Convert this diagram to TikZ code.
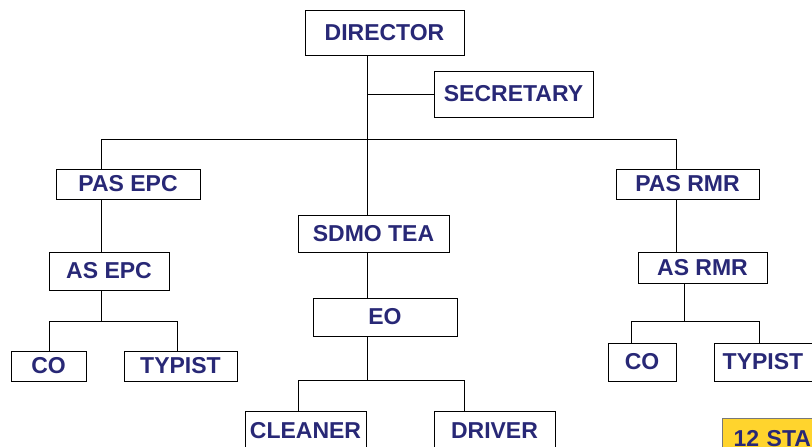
\documentclass[tikz,border=0pt]{standalone}
\usepackage{fontspec}
\setmainfont{Liberation Sans}
\definecolor{navy}{RGB}{40,40,118}
\definecolor{boxyellow}{RGB}{255,212,45}
\definecolor{boxgray}{RGB}{120,120,120}
\begin{document}
\begin{tikzpicture}[x=1pt,y=-1pt,
  orgbox/.style={draw=black, line width=1pt, fill=white, inner sep=0pt,
    text=navy, font=\fontsize{23}{27}\selectfont\bfseries},
  link/.style={draw=black, line width=1pt}]
\useasboundingbox (0,0) rectangle (812,447);
\clip (0,0) rectangle (812,447);
\fill[white] (0,0) rectangle (812,447);

% nodes
\node[orgbox, minimum width=159pt, minimum height=45pt] (dir) at (384.5,32.5) {DIRECTOR};
\node[orgbox, minimum width=159pt, minimum height=46pt] (sec) at (513.5,94) {SECRETARY};
\node[orgbox, minimum width=144pt, minimum height=30pt] (pasepc) at (128,184) {PAS EPC};
\node[orgbox, minimum width=120pt, minimum height=38pt] (asepc) at (109,271) {AS EPC};
\node[orgbox, minimum width=75pt, minimum height=30pt] (coL) at (48.5,366) {CO};
\node[orgbox, minimum width=113pt, minimum height=30pt] (typL) at (180.5,366) {TYPIST};
\node[orgbox, minimum width=151pt, minimum height=37pt] (sdmo) at (373.5,233.5) {SDMO TEA};
\node[orgbox, minimum width=144pt, minimum height=38pt] (eo) at (385,317) {EO};
\node[orgbox, minimum width=121pt, minimum height=40pt] (clean) at (305.5,431) {CLEANER};
\node[orgbox, minimum width=121pt, minimum height=40pt] (drv) at (494.5,431) {DRIVER};
\node[orgbox, minimum width=143pt, minimum height=30pt] (pasrmr) at (687.5,184) {PAS RMR};
\node[orgbox, minimum width=129pt, minimum height=31pt] (asrmr) at (702.5,267.5) {AS RMR};
\node[orgbox, minimum width=68pt, minimum height=38pt] (coR) at (642,362) {CO};
\node[orgbox, minimum width=98pt, minimum height=38pt] (typR) at (763,362) {TYPIST};
\node[orgbox, draw=boxgray, fill=boxyellow, anchor=north west, minimum height=40pt,
  text width=108pt, align=left, inner xsep=11pt] (staff) at (722,418) {12 STA};

% junction coordinates
\coordinate (bus) at (367,139);
\coordinate (busL) at (101,139);
\coordinate (busR) at (676,139);
\coordinate (jL) at (101,321);
\coordinate (jLa) at (49,321);
\coordinate (jLb) at (177,321);
\coordinate (jM) at (367,380);
\coordinate (jMa) at (298,380);
\coordinate (jMb) at (464,380);
\coordinate (jR) at (684,321);
\coordinate (jRa) at (631,321);
\coordinate (jRb) at (759,321);

% connectors
\draw[link] (dir.south -| bus) -- (sdmo.north -| bus);
\draw[link] (sec.west -| bus) -- (sec.west);
\draw[link] (busL) -- (busR);
% left column
\draw[link] (busL) -- (pasepc.north -| busL);
\draw[link] (pasepc.south -| busL) -- (asepc.north -| busL);
\draw[link] (asepc.south -| jL) -- (jL);
\draw[link] (jLa) -- (jLb);
\draw[link] (jLa) -- (coL.north -| jLa);
\draw[link] (jLb) -- (typL.north -| jLb);
% middle column
\draw[link] (sdmo.south -| bus) -- (eo.north -| bus);
\draw[link] (eo.south -| jM) -- (jM);
\draw[link] (jMa) -- (jMb);
\draw[link] (jMa) -- (clean.north -| jMa);
\draw[link] (jMb) -- (drv.north -| jMb);
% right column
\draw[link] (busR) -- (pasrmr.north -| busR);
\draw[link] (pasrmr.south -| busR) -- (asrmr.north -| busR);
\draw[link] (asrmr.south -| jR) -- (jR);
\draw[link] (jRa) -- (jRb);
\draw[link] (jRa) -- (coR.north -| jRa);
\draw[link] (jRb) -- (typR.north -| jRb);
\end{tikzpicture}
\end{document}
